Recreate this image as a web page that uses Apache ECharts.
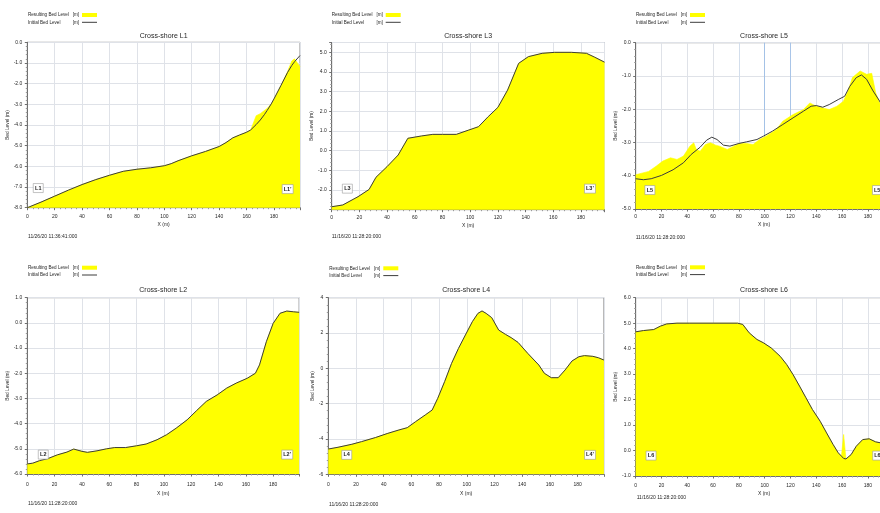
<!DOCTYPE html>
<html>
<head>
<meta charset="utf-8">
<script src="https://cdn.jsdelivr.net/npm/echarts@6/dist/echarts.min.js"></script>
<style>
  html, body { margin: 0; padding: 0; background: #fff; width: 880px; height: 513px; overflow: hidden; }
  #chart { width: 896px; height: 513px; }
</style>
</head>
<body>
<div id="chart"></div>
<script>
// Bed level along six cross-shore transects: chainage X (m) and level (m).

// Transect L1
const l1X = [0, 10, 20, 30, 40, 50, 60, 70, 80, 90, 100, 105, 110, 120, 130, 140, 145, 150, 155, 160, 163, 167, 170, 173, 175, 178, 180, 185, 190, 193, 195, 199];
const l1Initial = [-8.0, -7.73, -7.44, -7.15, -6.88, -6.64, -6.43, -6.24, -6.14, -6.07, -5.97, -5.87, -5.73, -5.49, -5.28, -5.04, -4.85, -4.62, -4.48, -4.35, -4.24, -3.98, -3.76, -3.5, -3.3, -2.98, -2.74, -2.1, -1.45, -1.12, -0.94, -0.64];
const l1Result = [-8.0, -7.73, -7.44, -7.15, -6.88, -6.64, -6.43, -6.24, -6.14, -6.07, -5.97, -5.87, -5.73, -5.49, -5.28, -5.04, -4.85, -4.62, -4.48, -4.35, -4.24, -3.55, -3.45, -3.3, -3.2, -2.98, -2.74, -2.1, -1.4, -0.9, -0.8, -1.18];

// Transect L3
const l3X = [0, 8, 19, 27, 32, 40, 48, 55, 65, 73, 80, 90, 99, 106, 113, 120, 127, 135, 142, 152, 161, 173, 180, 184, 190, 197];
const l3Initial = [-2.85, -2.76, -2.34, -1.97, -1.35, -0.81, -0.22, 0.63, 0.75, 0.83, 0.83, 0.83, 1.05, 1.22, 1.73, 2.2, 3.08, 4.44, 4.78, 4.95, 5.0, 5.0, 4.97, 4.95, 4.75, 4.5];
const l3Result = l3Initial;

// Transect L5
const l5InitialX = [0, 6, 12, 20, 29, 37, 43, 50, 55, 59, 63, 68, 73, 80, 86, 94, 99, 106, 114, 122, 130, 136, 140, 145, 150, 157, 162, 166, 171, 175, 179, 184, 189, 194, 199];
const l5Initial = [-4.09, -4.12, -4.09, -3.99, -3.82, -3.61, -3.36, -3.14, -2.93, -2.84, -2.91, -3.08, -3.11, -3.03, -2.98, -2.91, -2.81, -2.66, -2.46, -2.26, -2.06, -1.91, -1.89, -1.94, -1.86, -1.71, -1.61, -1.31, -1.05, -0.97, -1.1, -1.45, -1.75, -2.1, -2.4];
const l5ResultX = [0, 10, 16, 21, 27, 32, 37, 42, 45, 47, 50, 54, 58, 62, 65, 71, 76, 80, 86, 91, 96, 101, 109, 114, 122, 130, 135, 140, 145, 150, 156, 161, 165, 168, 174, 179, 183, 186, 189, 194, 199];
const l5Result = [-3.97, -3.87, -3.71, -3.56, -3.46, -3.51, -3.41, -3.11, -3.01, -3.21, -3.26, -3.06, -3.01, -3.08, -3.11, -3.21, -3.11, -3.03, -3.03, -3.06, -2.91, -2.81, -2.61, -2.36, -2.16, -2.01, -1.81, -1.91, -1.96, -2.01, -1.91, -1.76, -1.41, -1.05, -0.85, -0.95, -0.92, -1.5, -1.8, -2.2, -2.5];

// Transect L2
const l2X = [0, 4, 9, 15, 22, 29, 34, 40, 44, 51, 58, 64, 72, 80, 87, 95, 102, 109, 117, 124, 131, 139, 146, 153, 161, 167, 170, 175, 180, 185, 190, 195, 199];
const l2Initial = [-5.6, -5.57, -5.47, -5.39, -5.24, -5.13, -5.01, -5.1, -5.14, -5.08, -5.0, -4.95, -4.95, -4.88, -4.81, -4.64, -4.44, -4.18, -3.85, -3.48, -3.12, -2.86, -2.59, -2.39, -2.2, -2.0, -1.67, -0.75, -0.02, 0.38, 0.47, 0.44, 0.42];
const l2Result = l2Initial;

// Transect L4
const l4X = [0, 7, 17, 24, 34, 43, 51, 57, 63, 70, 75, 79, 84, 89, 94, 99, 104, 108, 111, 114, 118, 123, 128, 132, 137, 144, 152, 156, 161, 166, 171, 176, 181, 185, 191, 195, 199];
const l4Initial = [-4.57, -4.47, -4.3, -4.15, -3.92, -3.68, -3.49, -3.36, -3.02, -2.64, -2.36, -1.7, -0.75, 0.28, 1.13, 1.89, 2.64, 3.11, 3.25, 3.11, 2.87, 2.17, 1.92, 1.74, 1.47, 0.85, 0.19, -0.28, -0.53, -0.53, -0.09, 0.42, 0.66, 0.72, 0.68, 0.6, 0.47];
const l4Result = l4Initial;

// Transect L6
const l6X = [0, 6, 14, 19, 24, 32, 42, 60, 79, 83, 88, 94, 99, 105, 112, 117, 122, 127, 132, 137, 143, 148, 153, 157, 159.5, 161.2, 163, 167, 171, 176, 181, 186, 190, 195, 199];
const l6Initial = [4.66, 4.71, 4.75, 4.88, 4.97, 5.0, 5.0, 5.0, 5.0, 4.95, 4.62, 4.36, 4.23, 4.03, 3.7, 3.38, 2.98, 2.53, 2.07, 1.61, 1.15, 0.69, 0.24, -0.09, -0.22, -0.31, -0.33, -0.16, 0.17, 0.43, 0.46, 0.34, 0.3, 0.2, 0.1];
const l6Result = [4.66, 4.71, 4.75, 4.88, 4.97, 5.0, 5.0, 5.0, 5.0, 4.95, 4.62, 4.36, 4.23, 4.03, 3.7, 3.38, 2.98, 2.53, 2.07, 1.61, 1.15, 0.69, 0.24, -0.09, -0.22, 0.63, -0.33, -0.16, 0.17, 0.43, 0.46, 0.34, 0.3, 0.2, 0.1];

// Profile names and run stamps
const profileNames = ['L1', 'L3', 'L5', 'L2', 'L4', 'L6'];
const runStamps = ['11/26/20 11:36:41:000', '11/16/20 11:28:20:000', '11/16/20 11:28:20:000',
                   '11/16/20 11:28:20:000', '11/16/20 11:28:20:000', '11/16/20 11:28:20:000'];
const resultLabel = 'Resulting Bed Level';
const initialLabel = 'Initial Bed Level';
const unitLabel = '[m]';

// Panel layout: plot rectangle, axis ranges and text placement
const panels = [
  { ix: l1X, iy: l1Initial, rx: l1X, ry: l1Result,
    grid: { left: 27.3, top: 42.3, width: 272.7, height: 165.4 }, xMax: 199,
    yMin: -8, yMax: 0, yStep: 1, dec: 1, tags: [[8, -7.05], [190, -7.1]],
    titleTop: 32.5, legendPos: [28, 15], stampPos: [28, 237], xNameGap: 14.5, xLabelMargin: 6.5, yNameGap: 11.5 },
  { ix: l3X, iy: l3Initial, rx: l3X, ry: l3Result,
    grid: { left: 331.7, top: 42.5, width: 272.8, height: 167.2 }, xMax: 197,
    yMin: -3, yMax: 5.5, yStep: 1, dec: 1, hideMin: true, hideMax: true, tags: [[11.3, -1.93], [186.5, -1.93]],
    titleTop: 32.5, legendPos: [331.7, 15], stampPos: [331.7, 236.7], xNameGap: 13, xLabelMargin: 5.5, yNameGap: 10 },
  { ix: l5InitialX, iy: l5Initial, rx: l5ResultX, ry: l5Result,
    grid: { left: 635.7, top: 42.7, width: 256.7, height: 166.3 }, xMax: 199,
    yMin: -5, yMax: 0, yStep: 1, dec: 1, tags: [[11, -4.43], [187.8, -4.43]], blueLines: true,
    titleTop: 32.5, legendPos: [636, 15], stampPos: [635.7, 237.3], xNameGap: 13, xLabelMargin: 5.5, yNameGap: 9.7 },
  { ix: l2X, iy: l2Initial, rx: l2X, ry: l2Result,
    grid: { left: 27.3, top: 297.7, width: 271.8, height: 176.3 }, xMax: 199,
    yMin: -6, yMax: 1, yStep: 1, dec: 1, tags: [[11.7, -5.23], [190.3, -5.23]],
    titleTop: 286.7, legendPos: [28, 267.7], stampPos: [28, 503.3], xNameGap: 17, xLabelMargin: 8.5, yNameGap: 11.5 },
  { ix: l4X, iy: l4Initial, rx: l4X, ry: l4Result,
    grid: { left: 328.3, top: 297.7, width: 275.6, height: 176.6 }, xMax: 199,
    yMin: -6, yMax: 4, yStep: 2, dec: 0, tags: [[13.3, -4.9], [189, -4.9]],
    titleTop: 286.7, legendPos: [329.3, 268.3], stampPos: [329, 504.3], xNameGap: 17, xLabelMargin: 8.2, yNameGap: 6.6 },
  { ix: l6X, iy: l6Initial, rx: l6X, ry: l6Result,
    grid: { left: 635.7, top: 297.7, width: 256.7, height: 178.3 }, xMax: 199,
    yMin: -1, yMax: 6, yStep: 1, dec: 1, tags: [[11.9, -0.2], [188, -0.2]],
    titleTop: 286.7, legendPos: [636, 267.3], stampPos: [636.7, 497.7], xNameGap: 15, xLabelMargin: 7.5, yNameGap: 8 }
];

const FONT = '"Liberation Sans", Arial, Helvetica, sans-serif';
const INK = '#262626';
const GRID_LINE = '#dfe2e8';
const YELLOW = '#ffff00';
const PROFILE_LINE = '#3c3c3c';

const pairs = (xs, ys) => xs.map((x, i) => [x, ys[i]]);

const option = {
  animation: false,
  backgroundColor: '#ffffff',
  textStyle: { fontFamily: FONT },
  title: [], grid: [], xAxis: [], yAxis: [], series: [], graphic: []
};

// Key drawn beside each panel: label, unit column, then the swatch
function panelKey(x, y) {
  const rowGap = 7.3;
  const t = (tx, ty, text) => ({ type: 'text', x: tx, y: ty, silent: true,
    style: { text, fontSize: 4.6, fill: INK, fontFamily: FONT, verticalAlign: 'middle' } });
  return [
    t(x, y, resultLabel), t(x + 44.7, y, unitLabel),
    { type: 'rect', silent: true, shape: { x: x + 54, y: y - 2, width: 15, height: 4 }, style: { fill: YELLOW } },
    t(x, y + rowGap, initialLabel), t(x + 44.7, y + rowGap, unitLabel),
    { type: 'line', silent: true, shape: { x1: x + 54, y1: y + rowGap, x2: x + 69, y2: y + rowGap },
      style: { stroke: PROFILE_LINE, lineWidth: 1 } }
  ];
}

panels.forEach((p, i) => {
  const g = p.grid;
  option.grid.push(Object.assign({ show: true, borderColor: '#8d8d8d', borderWidth: 1, backgroundColor: '#fff', containLabel: false }, g));

  option.title.push({
    text: 'Cross-shore ' + profileNames[i],
    left: g.left + g.width / 2, top: p.titleTop, textAlign: 'center', padding: 0,
    textStyle: { fontSize: 7, fontWeight: 'normal', color: INK, fontFamily: FONT }
  });

  // Vertical grid colours; L5 has two highlighted chainage lines
  let vColors = GRID_LINE;
  if (p.blueLines) {
    vColors = [GRID_LINE, GRID_LINE, GRID_LINE, GRID_LINE, '#d3deec', '#a4c2e6', '#a9c5e8', GRID_LINE, GRID_LINE, GRID_LINE, GRID_LINE];
  }

  option.xAxis.push({
    type: 'value', gridIndex: i, min: 0, max: p.xMax, interval: 20,
    name: 'X (m)', nameLocation: 'middle', nameGap: p.xNameGap,
    nameTextStyle: { fontSize: 5, color: INK, fontFamily: FONT },
    axisLine: { show: true, onZero: false, lineStyle: { color: '#6f6f6f', width: 1 } },
    axisTick: { show: true, length: 2.5, lineStyle: { color: '#6f6f6f' } },
    minorTick: { show: true, splitNumber: 5, length: 1.5, lineStyle: { color: '#9a9a9a' } },
    axisLabel: { fontSize: 5, color: INK, margin: p.xLabelMargin, showMaxLabel: false, fontFamily: FONT },
    splitLine: { show: true, lineStyle: { color: vColors, width: 1 } }
  });

  option.yAxis.push({
    type: 'value', gridIndex: i, min: p.yMin, max: p.yMax, interval: p.yStep,
    name: 'Bed Level (m)', nameLocation: 'middle', nameGap: p.yNameGap, nameRotate: 90,
    nameTextStyle: { fontSize: 4.8, color: INK, fontFamily: FONT },
    axisLine: { show: true, onZero: false, lineStyle: { color: '#6f6f6f', width: 1 } },
    axisTick: { show: true, length: 2.5, lineStyle: { color: '#6f6f6f' } },
    minorTick: { show: true, splitNumber: 5, length: 1.5, lineStyle: { color: '#9a9a9a' } },
    axisLabel: {
      fontSize: 5, color: INK, margin: 5, fontFamily: FONT,
      showMinLabel: !p.hideMin, showMaxLabel: !p.hideMax,
      formatter: v => v.toFixed(p.dec)
    },
    splitLine: { show: true, lineStyle: { color: GRID_LINE, width: 1 } }
  });

  // Resulting bed level: yellow filled profile
  option.series.push({
    name: resultLabel, type: 'line', xAxisIndex: i, yAxisIndex: i,
    data: pairs(p.rx, p.ry), symbol: 'none', showSymbol: false,
    lineStyle: { width: 0.6, color: YELLOW }, itemStyle: { color: YELLOW },
    areaStyle: { color: YELLOW, opacity: 1, origin: 'start' },
    z: 2, silent: true
  });

  // Initial bed level: thin dark line, with the section end markers
  option.series.push({
    name: initialLabel, type: 'line', xAxisIndex: i, yAxisIndex: i,
    data: pairs(p.ix, p.iy), symbol: 'none', showSymbol: false,
    lineStyle: { width: 1, color: PROFILE_LINE }, itemStyle: { color: PROFILE_LINE },
    z: 3, silent: true,
    markPoint: {
      silent: true, animation: false,
      symbol: 'rect',
      itemStyle: { color: '#ffffff', borderColor: '#9a9a9a', borderWidth: 0.6 },
      label: { show: true, position: 'inside', fontSize: 5.5, fontWeight: 'bold', color: '#1e1e1e', fontFamily: FONT, formatter: d => d.name },
      data: [
        { name: profileNames[i], coord: p.tags[0], symbolSize: [10, 9] },
        { name: profileNames[i] + '\u2019', coord: p.tags[1], symbolSize: [11, 9] }
      ]
    }
  });

  option.graphic.push(...panelKey(p.legendPos[0], p.legendPos[1]));
  option.graphic.push({
    type: 'text', x: p.stampPos[0], y: p.stampPos[1], silent: true,
    style: { text: runStamps[i], fontSize: 5, fill: INK, fontFamily: FONT, verticalAlign: 'middle' }
  });
});

const chart = echarts.init(document.getElementById('chart'), null, { renderer: 'canvas' });
chart.setOption(option);
</script>
</body>
</html>
